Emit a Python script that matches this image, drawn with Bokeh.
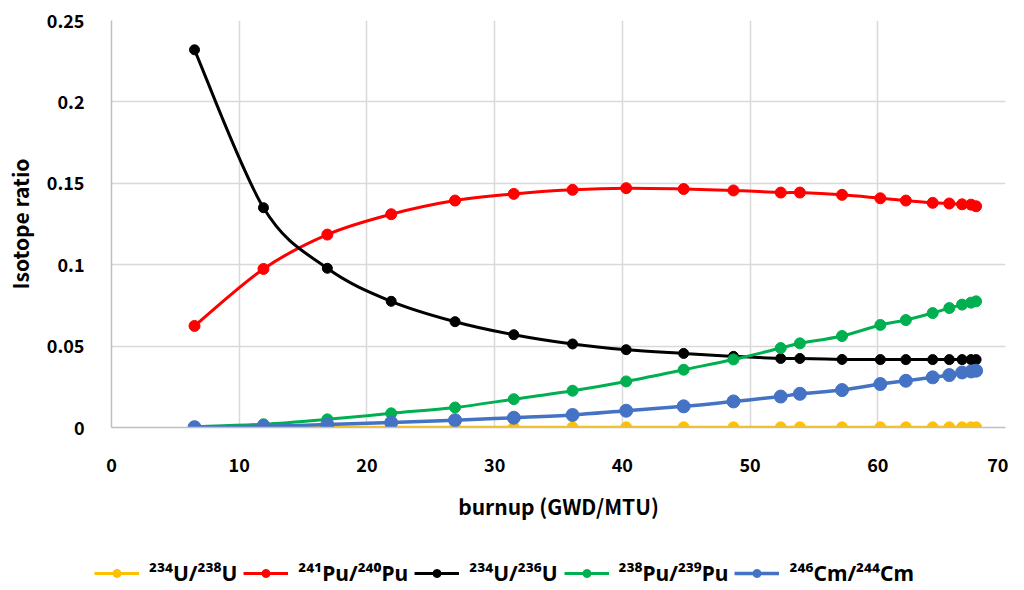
import numpy as np
from bokeh.plotting import figure
from bokeh.layouts import column
from bokeh.models import Range1d, Legend, LegendItem, FixedTicker, NumeralTickFormatter
from bokeh.embed import file_html
from bokeh.resources import INLINE

# ---- data ----
burnup = [6.5, 11.9, 16.9, 21.9, 26.9, 31.5, 36.1, 40.3, 44.8, 48.7,
          52.4, 53.9, 57.2, 60.2, 62.2, 64.3, 65.6, 66.6, 67.3, 67.7]
u234_u238 = [0.0001] * 20
pu241_pu240 = [0.0624, 0.0974, 0.1185, 0.1310, 0.1394, 0.1435, 0.1460, 0.1470, 0.1465, 0.1456,
               0.1443, 0.1443, 0.1429, 0.1408, 0.1394, 0.1380, 0.1376, 0.1371, 0.1369, 0.1359]
u234_u236 = [0.2320, 0.1350, 0.0978, 0.0775, 0.0650, 0.0570, 0.0513, 0.0478, 0.0455, 0.0437,
             0.0424, 0.0424, 0.0418, 0.0417, 0.0417, 0.0417, 0.0417, 0.0417, 0.0417, 0.0417]
pu238_pu239 = [0.0005, 0.0020, 0.0050, 0.0087, 0.0123, 0.0174, 0.0226, 0.0283, 0.0355, 0.0418,
               0.0488, 0.0517, 0.0562, 0.0630, 0.0660, 0.0703, 0.0734, 0.0755, 0.0767, 0.0775]
cm246_cm244 = [0.0002, 0.0008, 0.0018, 0.0030, 0.0045, 0.0060, 0.0077, 0.0103, 0.0130, 0.0160,
               0.0190, 0.0207, 0.0230, 0.0267, 0.0287, 0.0308, 0.0322, 0.0338, 0.0344, 0.0349]
series_labels = ["²³⁴U/²³⁸U", "²⁴¹Pu/²⁴⁰Pu", "²³⁴U/²³⁶U", "²³⁸Pu/²³⁹Pu", "²⁴⁶Cm/²⁴⁴Cm"]
x_ticks = [0, 10, 20, 30, 40, 50, 60, 70]
y_ticks = [0, 0.05, 0.1, 0.15, 0.2, 0.25]

series = [u234_u238, pu241_pu240, u234_u236, pu238_pu239, cm246_cm244]
colors = ["#FFC000", "#FF0000", "#000000", "#00B050", "#4472C4"]
marker_sizes = [11, 11, 10, 11, 13]
line_widths = [3, 3, 3, 3, 3.5]

AXIS_FONT = "Noto Sans CJK KR"

p = figure(width=1008, height=556, output_backend="svg", toolbar_location=None,
           x_range=Range1d(0, 70), y_range=Range1d(0, 0.25),
           min_border_left=111, min_border_right=3, min_border_top=20, min_border_bottom=129)
p.outline_line_color = None
p.background_fill_color = "white"
p.border_fill_color = "white"

for ax in (p.xaxis[0], p.yaxis[0]):
    ax.axis_line_color = "#BFBFBF"
    ax.axis_line_width = 1.5
    ax.major_tick_line_color = None
    ax.minor_tick_line_color = None
    ax.major_label_text_font = AXIS_FONT
    ax.major_label_text_font_style = "bold"
    ax.major_label_text_font_size = "18px"
    ax.major_label_text_color = "#000000"
    ax.axis_label_text_font = AXIS_FONT
    ax.axis_label_text_font_style = "bold"
    ax.axis_label_text_font_size = "21px"
    ax.axis_label_text_color = "#000000"

p.xaxis.ticker = FixedTicker(ticks=x_ticks)
p.yaxis.ticker = FixedTicker(ticks=y_ticks)
p.yaxis.formatter = NumeralTickFormatter(format="0.[00]")
p.xaxis.formatter = NumeralTickFormatter(format="0")
p.xaxis.axis_label = "burnup (GWD/MTU)"
p.yaxis.axis_label = "Isotope ratio"
p.xaxis.major_label_standoff = 24
p.yaxis.major_label_standoff = 21
p.xaxis.axis_label_standoff = 16
p.yaxis.axis_label_standoff = 9

p.xgrid.ticker = FixedTicker(ticks=x_ticks)
p.ygrid.ticker = FixedTicker(ticks=y_ticks)
p.grid.grid_line_color = "#D9D9D9"
p.grid.grid_line_width = 1.5


def smooth_controls(xs, ys):
    xs = np.asarray(xs, float)
    ys = np.asarray(ys, float)
    n = len(xs)
    x0, y0, x1, y1, cx0, cy0, cx1, cy1 = [], [], [], [], [], [], [], []
    for i in range(n - 1):
        pi = max(i - 1, 0)
        ni = min(i + 2, n - 1)
        x0.append(xs[i]); y0.append(ys[i])
        x1.append(xs[i + 1]); y1.append(ys[i + 1])
        cx0.append(xs[i] + (xs[i + 1] - xs[pi]) / 6.0)
        cy0.append(ys[i] + (ys[i + 1] - ys[pi]) / 6.0)
        cx1.append(xs[i + 1] - (xs[ni] - xs[i]) / 6.0)
        cy1.append(ys[i + 1] - (ys[ni] - ys[i]) / 6.0)
    return dict(x0=x0, y0=y0, x1=x1, y1=y1, cx0=cx0, cy0=cy0, cx1=cx1, cy1=cy1)


# legend strip (separate small figure below the chart)
lf = figure(width=1008, height=34, output_backend="svg", toolbar_location=None,
            x_axis_type=None, y_axis_type=None, x_range=Range1d(0, 1), y_range=Range1d(0, 1),
            min_border=0)
lf.outline_line_color = None
lf.xgrid.visible = False
lf.ygrid.visible = False

items = []
for vals, col, ms, lw, lab in zip(series, colors, marker_sizes, line_widths, series_labels):
    c = smooth_controls(burnup, vals)
    p.bezier(x0=c["x0"], y0=c["y0"], x1=c["x1"], y1=c["y1"],
             cx0=c["cx0"], cy0=c["cy0"], cx1=c["cx1"], cy1=c["cy1"],
             line_color=col, line_width=lw)
    p.scatter(burnup, vals, size=ms, fill_color=col, line_color=col, marker="circle")
    dl = lf.line([float("nan")], [float("nan")], line_color=col, line_width=lw)
    ds = lf.scatter([float("nan")], [float("nan")], size=ms - 1, fill_color=col, line_color=col,
                    marker="circle")
    items.append(LegendItem(label=lab, renderers=[dl, ds]))

legend = Legend(items=items, orientation="horizontal", location="center",
                label_text_font="Noto Sans", label_text_font_style="bold",
                label_text_font_size="21px", label_text_color="#000000",
                glyph_width=45, glyph_height=20,
                label_standoff=10, spacing=6, border_line_color=None,
                background_fill_alpha=0, margin=0, padding=2)
lf.add_layout(legend, "center")

layout = column(p, column(lf), spacing=0)
open("out.html", "w").write(file_html(layout, INLINE))
